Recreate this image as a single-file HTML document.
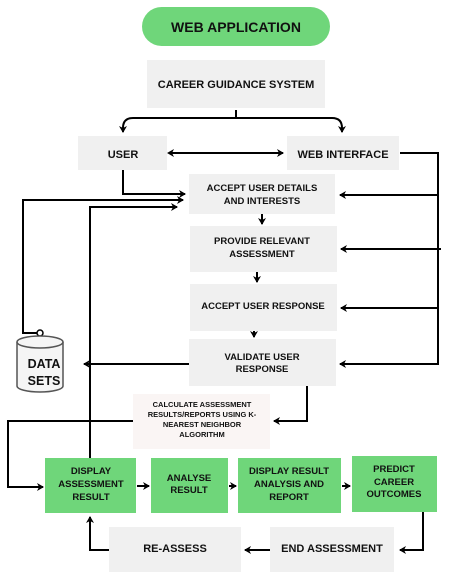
<!DOCTYPE html>
<html><head><style>
body{margin:0;background:#fff;}
svg text{font-family:"Liberation Sans",sans-serif;font-weight:bold;fill:#111;text-anchor:middle;}
</style></head><body>
<svg width="450" height="582" viewBox="0 0 450 582" xmlns="http://www.w3.org/2000/svg">
<defs><marker id="a" markerWidth="8" markerHeight="8" refX="6" refY="4" orient="auto" markerUnits="userSpaceOnUse"><path d="M0,0 L7,4 L0,8 L2,4 Z" fill="#000"/></marker>
<marker id="s" markerWidth="8" markerHeight="8" refX="2" refY="4" orient="auto-start-reverse" markerUnits="userSpaceOnUse"><path d="M0,0 L7,4 L0,8 L2,4 Z" fill="#000"/></marker></defs>
<rect x="142" y="7" width="188" height="39" rx="19.5" fill="#6fd67a"/>
<text x="236" y="32" font-size="14">WEB APPLICATION</text>
<rect x="147" y="60" width="178" height="48" fill="#f0f0f0"/>
<text x="236" y="88" font-size="11">CAREER GUIDANCE SYSTEM</text>
<g fill="none" stroke="#000" stroke-width="2">
<path d="M236,110 L236,118 L133,118 Q123,118 123,128 L123,132" marker-end="url(#a)"/>
<path d="M236,118 L332,118 Q342,118 342,128 L342,132" marker-end="url(#a)"/>
<path d="M172,153 L283,153" marker-start="url(#s)" marker-end="url(#a)"/>
<path d="M400,153 L438,153 L438,364 L340,364" marker-end="url(#a)"/>
<path d="M438,195 L340,195" marker-end="url(#a)"/>
<path d="M441,249 L341,249" marker-end="url(#a)"/>
<path d="M438,308 L341,308" marker-end="url(#a)"/>
<path d="M123,170 L123,194 L185,194" marker-end="url(#a)"/>
<path d="M40,333 L23,333 L23,200 L183,200" marker-end="url(#a)"/>
<path d="M90,458 L90,207 L177,207" marker-end="url(#a)"/>
<path d="M189,364 L84,364" marker-end="url(#a)"/>
<path d="M307,386 L307,421 L274,421" marker-end="url(#a)"/>
<path d="M133,421 L8,421 L8,487 L43,487" marker-end="url(#a)"/>
<path d="M137,486 L149,486" marker-end="url(#a)"/>
<path d="M229,486 L236,486" marker-end="url(#a)"/>
<path d="M342,486 L350,486" marker-end="url(#a)"/>
<path d="M423,512 L423,550 L400,550" marker-end="url(#a)"/>
<path d="M270,550 L245,550" marker-end="url(#a)"/>
<path d="M109,550 L90,550 L90,517" marker-end="url(#a)"/>
<path d="M262,214 L262,224" marker-end="url(#a)"/>
<path d="M257,272 L257,282" marker-end="url(#a)"/>
<path d="M254,331 L254,337" marker-end="url(#a)"/>
</g>
<circle cx="40" cy="333" r="3" fill="#fff" stroke="#000" stroke-width="1.5"/>
<rect x="78" y="136" width="89" height="34" fill="#f0f0f0"/>
<text x="123" y="158" font-size="11">USER</text>
<rect x="287" y="136" width="112" height="34" fill="#f0f0f0"/>
<text x="343" y="158" font-size="11">WEB INTERFACE</text>
<rect x="189" y="174" width="146" height="40" fill="#f0f0f0"/>
<text x="262" y="191" font-size="9.5">ACCEPT USER DETAILS</text>
<text x="262" y="204" font-size="9.5">AND INTERESTS</text>
<rect x="190" y="226" width="147" height="46" fill="#f0f0f0"/>
<text x="262" y="244" font-size="9.5">PROVIDE RELEVANT</text>
<text x="262" y="257" font-size="9.5">ASSESSMENT</text>
<rect x="190" y="284" width="147" height="47" fill="#f0f0f0"/>
<text x="263" y="309" font-size="9.5">ACCEPT USER RESPONSE</text>
<rect x="189" y="339" width="147" height="47" fill="#f0f0f0"/>
<text x="262" y="360" font-size="9.5">VALIDATE USER</text>
<text x="262" y="372" font-size="9.5">RESPONSE</text>
<g stroke="#555" stroke-width="1.5" fill="#f5f5f5">
<path d="M17,342 L17,386 A23,6 0 0 0 63,386 L63,342"/>
<ellipse cx="40" cy="342" rx="23" ry="6"/>
</g>
<text x="44" y="368" font-size="12.5">DATA</text>
<text x="44" y="385" font-size="12.5">SETS</text>
<rect x="133" y="394" width="137" height="55" fill="#faf5f4"/>
<text x="202" y="407" font-size="7.5">CALCULATE ASSESSMENT</text>
<text x="202" y="417" font-size="7.5">RESULTS/REPORTS USING K-</text>
<text x="202" y="427" font-size="7.5">NEAREST NEIGHBOR</text>
<text x="202" y="437" font-size="7.5">ALGORITHM</text>
<g fill="#6fd67a">
<rect x="45" y="458" width="91" height="55"/>
<rect x="151" y="458" width="77" height="55"/>
<rect x="238" y="458" width="103" height="55"/>
<rect x="352" y="456" width="85" height="56"/>
</g>
<g font-size="9.5">
<text x="91" y="474">DISPLAY</text><text x="91" y="487">ASSESSMENT</text><text x="91" y="500">RESULT</text>
<text x="189" y="481">ANALYSE</text><text x="189" y="493">RESULT</text>
<text x="289" y="474">DISPLAY RESULT</text><text x="289" y="487">ANALYSIS AND</text><text x="289" y="500">REPORT</text>
<text x="394" y="472">PREDICT</text><text x="394" y="485">CAREER</text><text x="394" y="497">OUTCOMES</text>
</g>
<rect x="109" y="527" width="132" height="45" fill="#f0f0f0"/>
<text x="175" y="552" font-size="11">RE-ASSESS</text>
<rect x="270" y="527" width="124" height="45" fill="#f0f0f0"/>
<text x="332" y="552" font-size="11">END ASSESSMENT</text>
</svg>
</body></html>
